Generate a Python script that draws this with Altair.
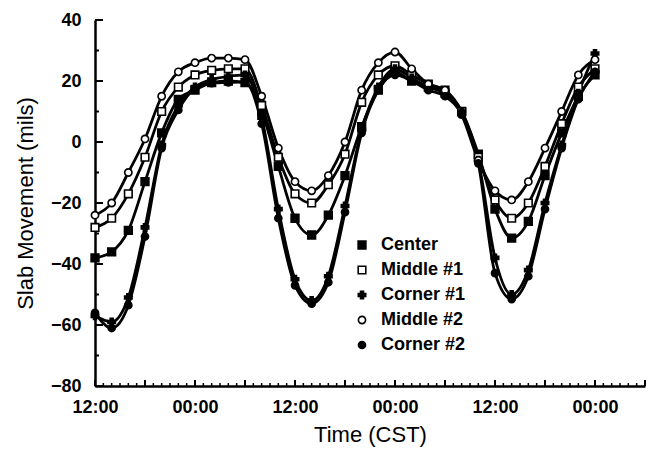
import altair as alt
import pandas as pd

# ---- data ----
hours = list(range(0, 61, 2))
series_names = ["Center", "Middle #1", "Corner #1", "Middle #2", "Corner #2"]
center = [-38, -36, -29, -13, 3, 14, 17, 19.5, 20, 19.5, 10, -8, -25, -30.5, -24, -11,
          5, 17, 23, 20, 18, 16, 10, -4, -22, -31.5, -26, -11, 3, 15, 22]
middle1 = [-28, -25, -17, -5, 10, 18, 22, 23.5, 24, 24, 12, -5, -17, -20, -14, -4,
           13, 22, 25, 22, 19, 17, 10, -5, -19, -25, -20, -8, 6, 18, 24]
corner1 = [-57, -59, -51, -28, -1, 12, 18, 20.5, 21.5, 22, 8, -22, -45, -52, -44, -21,
           4, 18, 24, 21, 18, 16, 10, -6, -38, -50, -42, -20, -1, 16, 29]
middle2 = [-24, -20, -10, 1, 15, 23, 26, 27.5, 27.5, 27, 15, -2, -13, -16, -11, 0,
           17, 26, 29.5, 24, 19, 17, 9, -6, -16, -19, -13, -2, 10, 22, 27]
corner2 = [-56, -61, -53.5, -31, -2, 10.5, 17.5, 19.3, 19.5, 19.7, 6, -25, -47, -53, -46, -23,
           3, 17, 22, 20, 17, 15, 9, -7, -43, -51.5, -44, -22, -2, 14, 23]
all_series = [center, middle1, corner1, middle2, corner2]

x_tick_values = [0, 12, 24, 36, 48, 60]
x_tick_labels = ["12:00", "00:00", "12:00", "00:00", "12:00", "00:00"]
y_tick_values = [-80, -60, -40, -20, 0, 20, 40]
y_minor_values = [-70, -50, -30, -10, 10, 30]
x_major_ticks = list(range(0, 67, 6))
x_minor_ticks = list(range(0, 67, 1))

marker_shapes = ["square", "square", "cross", "circle", "circle"]
marker_fills = ["black", "white", "black", "white", "black"]
marker_strokes = ["black", "black", "black", "black", "black"]
marker_sizes = [60, 50, 30, 50, 70]

rows = []
for name, vals in zip(series_names, all_series):
    for t, v in zip(hours, vals):
        rows.append({"t": t, "v": v, "s": name})
df = pd.DataFrame(rows)

# ---- styling ----
FONT = "Liberation Sans"
W, H = 550, 366

label_expr = " : ".join(
    f"datum.value == {v} ? '{l}'" for v, l in zip(x_tick_values, x_tick_labels)
) + " : ''"

xscale = alt.Scale(domain=[0, 66], nice=False, zero=False)
yscale = alt.Scale(domain=[-80, 40], nice=False, zero=False)

x_axis = alt.Axis(values=x_tick_values, labelExpr=label_expr, title="Time (CST)",
                  ticks=False, grid=False, labelPadding=12, titlePadding=8,
                  labelFlush=False)
y_axis = alt.Axis(values=y_tick_values, title="Slab Movement (mils)",
                  ticks=False, grid=False, labelPadding=14, titlePadding=13,
                  labelFlush=False)

leg = alt.Legend(orient="none", legendX=258, legendY=216, title=None,
                 labelFont=FONT, labelFontSize=18, labelFontWeight="bold",
                 labelColor="black", rowPadding=7,
                 symbolStrokeWidth=1.6, labelOffset=10)

base = alt.Chart(df)

lines = base.mark_line(interpolate="monotone", color="black", strokeWidth=2.8).encode(
    x=alt.X("t:Q", scale=xscale, axis=x_axis),
    y=alt.Y("v:Q", scale=yscale, axis=y_axis),
    detail="s:N",
)

points = base.mark_point(filled=True, strokeWidth=1.6, opacity=1).encode(
    x=alt.X("t:Q", scale=xscale, axis=x_axis),
    y=alt.Y("v:Q", scale=yscale, axis=y_axis),
    shape=alt.Shape("s:N", scale=alt.Scale(domain=series_names, range=marker_shapes), legend=leg),
    fill=alt.Fill("s:N", scale=alt.Scale(domain=series_names, range=marker_fills), legend=leg),
    stroke=alt.Stroke("s:N", scale=alt.Scale(domain=series_names, range=marker_strokes), legend=leg),
    size=alt.Size("s:N", scale=alt.Scale(domain=series_names, range=marker_sizes), legend=leg),
)

ymaj = alt.Chart(pd.DataFrame({"v": y_tick_values})).mark_rule(color="black", strokeWidth=2).encode(
    y=alt.Y("v:Q", scale=yscale, axis=y_axis), x=alt.value(0), x2=alt.value(8))
ymin = alt.Chart(pd.DataFrame({"v": y_minor_values})).mark_rule(color="black", strokeWidth=2).encode(
    y=alt.Y("v:Q", scale=yscale, axis=y_axis), x=alt.value(0), x2=alt.value(4))
xmaj = alt.Chart(pd.DataFrame({"t": x_major_ticks})).mark_rule(color="black", strokeWidth=2).encode(
    x=alt.X("t:Q", scale=xscale, axis=x_axis), y=alt.value(H), y2=alt.value(H - 6))
xmin = alt.Chart(pd.DataFrame({"t": x_minor_ticks})).mark_rule(color="black", strokeWidth=1.5).encode(
    x=alt.X("t:Q", scale=xscale, axis=x_axis), y=alt.value(H), y2=alt.value(H - 3))

chart = alt.layer(xmin, xmaj, ymin, ymaj, lines, points).properties(
    width=W, height=H,
    autosize=alt.AutoSizeParams(type="none"),
    padding={"left": 95, "top": 20, "right": 6, "bottom": 69},
).configure_view(stroke=None).configure_axis(
    domainColor="black", domainWidth=2.5,
    labelFont=FONT, labelFontSize=18, labelFontWeight="bold", labelColor="black",
    titleFont=FONT, titleFontSize=22, titleFontWeight="normal", titleColor="black",
)

chart.save("out.html", embed_options={"renderer": "svg", "actions": False})
